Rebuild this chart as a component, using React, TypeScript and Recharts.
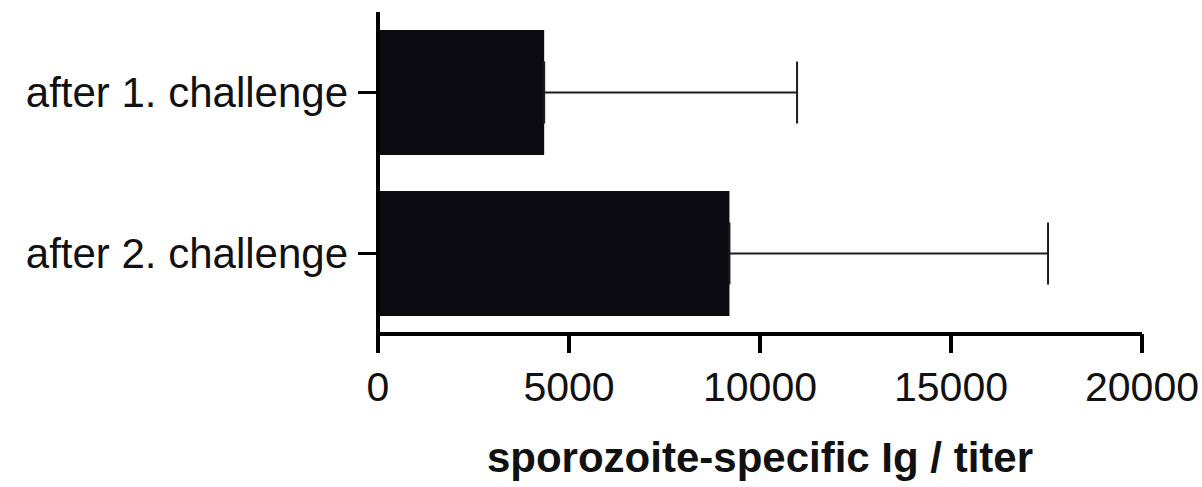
import React from 'react';
import { BarChart, Bar, XAxis, YAxis, ErrorBar, Label } from 'recharts';

const categories = ['after 1. challenge', 'after 2. challenge'];
const meanTiter = [4350, 9200];
const errUpper = [6620, 8340];
const xTicks = [0, 5000, 10000, 15000, 20000];

const data = categories.map((name, i) => ({
  name,
  value: meanTiter[i],
  err: [0, errUpper[i]],
}));

const font = '"Liberation Sans", Arial, sans-serif';

export default function App() {
  return (
    <div style={{ position: 'absolute', left: 0, top: 0, background: '#fff' }}>
      <BarChart
        width={1202}
        height={487}
        data={data}
        layout="vertical"
        margin={{ top: 12, right: 60, bottom: 0, left: 0 }}
      >
        <XAxis
          type="number"
          domain={[0, 20000]}
          ticks={xTicks}
          interval={0}
          height={153}
          tickSize={19}
          tickMargin={19}
          axisLine={{ stroke: '#000', strokeWidth: 4 }}
          tickLine={{ stroke: '#000', strokeWidth: 4 }}
          tick={{ fill: '#111', fontSize: 41, fontFamily: font }}
        >
          <Label
            value="sporozoite-specific Ig / titer"
            position="insideBottom"
            offset={15}
            style={{ fill: '#111', fontSize: 42, fontWeight: 'bold', fontFamily: font }}
          />
        </XAxis>
        <YAxis
          type="category"
          dataKey="name"
          width={378}
          tickSize={20}
          tickMargin={10}
          axisLine={{ stroke: '#000', strokeWidth: 4 }}
          tickLine={{ stroke: '#000', strokeWidth: 3 }}
          tick={{ fill: '#111', fontSize: 42, fontFamily: font }}
        />
        <Bar dataKey="value" fill="#0a0a10" barSize={125} isAnimationActive={false}>
          <ErrorBar
            dataKey="err"
            direction="x"
            width={31}
            stroke="#1c1c1c"
            strokeWidth={2}
            isAnimationActive={false}
          />
        </Bar>
      </BarChart>
    </div>
  );
}
